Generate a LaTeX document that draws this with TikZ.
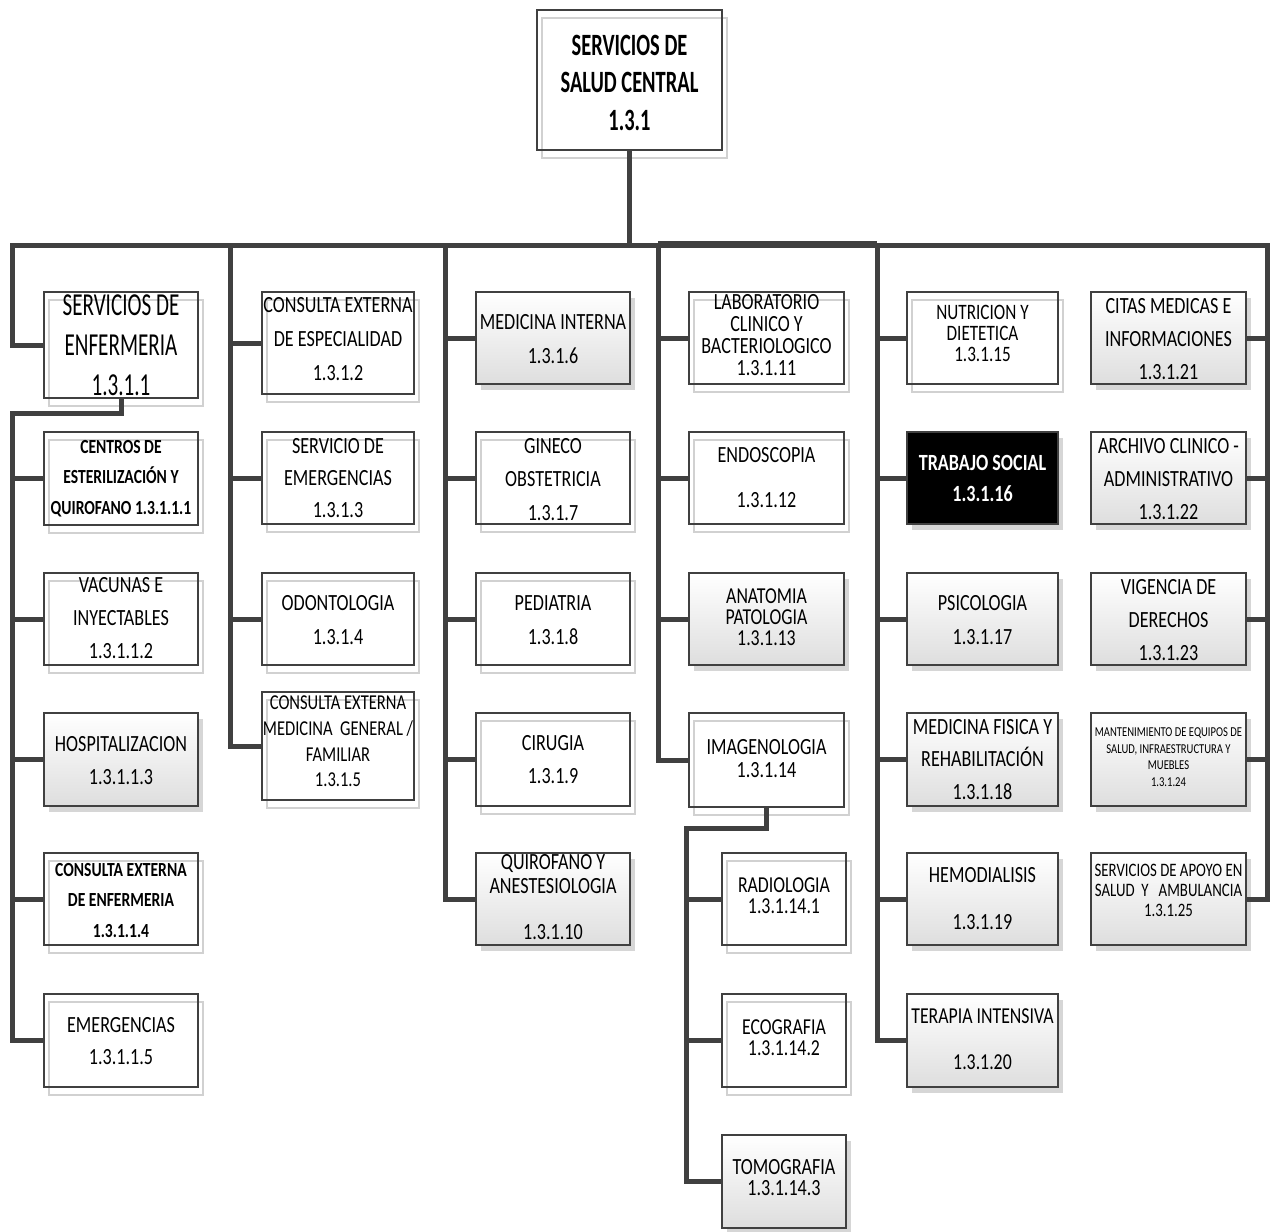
\documentclass[tikz,border=0pt]{standalone}
\usepackage{fontspec}
\setmainfont{Carlito}[FakeStretch=0.78]
\newfontfamily\widefont{Carlito}[FakeStretch=0.66]
\usetikzlibrary{shadows}
\definecolor{ln}{HTML}{404040}
\newcommand\orgbox[6]{\node[#2, minimum width={(#5-#3)*0.5pt}, minimum height={(#6-#4)*0.5pt}, anchor=north west] (#1) at (#3,#4) {};}
\newcommand\orgtext[5]{\node[txt,#2] (#1) at (#3,#4) {#5};}
\begin{document}
\begin{tikzpicture}[x=0.5pt,y=-0.5pt,
  boxbase/.style={rectangle, draw=ln, line width=0.7pt, inner sep=0pt, outer sep=0pt},
  ghostbox/.style={boxbase, general shadow={draw=black!18, line width=0.6pt, shadow xshift=2.5pt, shadow yshift=-4pt}},
  gradbox/.style={boxbase, top color=white, bottom color=black!13, general shadow={fill=black!16, shadow xshift=2.5pt, shadow yshift=-3pt}},
  blackbox/.style={boxbase, fill=black, general shadow={fill=black!16, shadow xshift=2.5pt, shadow yshift=-3pt}},
  conn/.style={draw=ln, line width=2.5pt, line join=miter},
  txt/.style={align=center, inner sep=0pt, text=black},
  fs/.style 2 args={font=\fontsize{#1}{#2}\selectfont},
  fb/.style 2 args={font=\bfseries\fontsize{#1}{#2}\selectfont},
]
\useasboundingbox[fill=white] (0,0) rectangle (1270,1232);

% ---------- boxes ----------
\orgbox{top}{ghostbox}{537}{10}{722}{150}
\orgbox{enf}{ghostbox}{44}{292}{198}{398}
\orgbox{e1}{ghostbox}{44}{432}{198}{525}
\orgbox{e2}{ghostbox}{44}{573}{198}{665}
\orgbox{e3}{gradbox}{44}{713}{198}{806}
\orgbox{e4}{ghostbox}{44}{853}{198}{945}
\orgbox{e5}{ghostbox}{44}{994}{198}{1087}

\orgbox{s2}{ghostbox}{262}{292}{414}{394}
\orgbox{s3}{ghostbox}{262}{432}{414}{524}
\orgbox{s4}{ghostbox}{262}{573}{414}{665}
\orgbox{s5}{ghostbox}{262}{692}{414}{800}

\orgbox{m6}{gradbox}{476}{292}{630}{384}
\orgbox{m7}{ghostbox}{476}{432}{630}{524}
\orgbox{m8}{ghostbox}{476}{573}{630}{665}
\orgbox{m9}{ghostbox}{476}{713}{630}{806}
\orgbox{m10}{gradbox}{476}{853}{630}{945}

\orgbox{l11}{ghostbox}{689}{292}{844}{384}
\orgbox{l12}{ghostbox}{689}{432}{844}{524}
\orgbox{l13}{gradbox}{689}{573}{844}{665}
\orgbox{l14}{ghostbox}{689}{713}{844}{807}
\orgbox{r1}{ghostbox}{722}{853}{846}{945}
\orgbox{r2}{ghostbox}{722}{994}{846}{1087}
\orgbox{r3}{gradbox}{722}{1135}{846}{1228}

\orgbox{n15}{ghostbox}{907}{292}{1058}{384}
\orgbox{n16}{blackbox}{907}{432}{1058}{524}
\orgbox{n17}{gradbox}{907}{573}{1058}{665}
\orgbox{n18}{gradbox}{907}{713}{1058}{806}
\orgbox{n19}{gradbox}{907}{853}{1058}{945}
\orgbox{n20}{gradbox}{907}{994}{1058}{1087}

\orgbox{c21}{gradbox}{1091}{292}{1246}{384}
\orgbox{c22}{gradbox}{1091}{432}{1246}{524}
\orgbox{c23}{gradbox}{1091}{573}{1246}{665}
\orgbox{c24}{gradbox}{1091}{713}{1246}{806}
\orgbox{c25}{gradbox}{1091}{853}{1246}{945}

% ---------- texts ----------
\orgtext{ttop}{font=\widefont\bfseries\fontsize{15.5}{18.75}\selectfont}{629.5}{82.5}{SERVICIOS DE\\SALUD CENTRAL\\1.3.1}
\orgtext{tenf}{font=\widefont\fontsize{16}{20}\selectfont}{121}{345.5}{SERVICIOS DE\\ENFERMERIA\\1.3.1.1}
\orgtext{te1}{fb={10}{15.25}}{121}{478.5}{CENTROS DE\\ESTERILIZACIÓN Y\\QUIROFANO 1.3.1.1.1}
\orgtext{te2}{fs={11.6}{16.5}}{121}{618}{VACUNAS E\\INYECTABLES\\1.3.1.1.2}
\orgtext{te3}{fs={11.6}{16.5}}{121}{760.5}{HOSPITALIZACION\\1.3.1.1.3}
\orgtext{te4}{fb={10}{15.25}}{121}{900.5}{CONSULTA EXTERNA\\DE ENFERMERIA\\1.3.1.1.4}
\orgtext{te5}{fs={11.6}{16}}{121}{1041}{EMERGENCIAS\\1.3.1.1.5}

\orgtext{ts2}{fs={11.6}{17}}{338}{339}{CONSULTA EXTERNA\\DE ESPECIALIDAD\\1.3.1.2}
\orgtext{ts3}{fs={11.6}{16}}{338}{478}{SERVICIO DE\\EMERGENCIAS\\1.3.1.3}
\orgtext{ts4}{fs={11.6}{17}}{338}{620}{ODONTOLOGIA\\1.3.1.4}
\orgtext{ts5}{fs={10.6}{12.8}}{338}{741.5}{CONSULTA EXTERNA\\MEDICINA\ \ GENERAL /\\FAMILIAR\\1.3.1.5}

\orgtext{tm6}{fs={11.6}{17}}{553}{339}{MEDICINA INTERNA\\1.3.1.6}
\orgtext{tm7}{fs={11.6}{16.75}}{553}{479.5}{GINECO\\OBSTETRICIA\\1.3.1.7}
\orgtext{tm8}{fs={11.6}{17}}{553}{620}{PEDIATRIA\\1.3.1.8}
\orgtext{tm9}{fs={11.6}{16.5}}{553}{759.5}{CIRUGIA\\1.3.1.9}
\orgtext{tm10}{fs={11.6}{12}}{553}{897}{QUIROFANO Y\\ANESTESIOLOGIA\\[11pt]1.3.1.10}

\orgtext{tl11}{fs={11.6}{11}}{766.5}{335}{LABORATORIO\\CLINICO Y\\BACTERIOLOGICO\\1.3.1.11}
\orgtext{tl12}{fs={11.6}{22.5}}{766.5}{477.5}{ENDOSCOPIA\\1.3.1.12}
\orgtext{tl13}{fs={11.4}{10.6}}{766.5}{617}{ANATOMIA\\PATOLOGIA\\1.3.1.13}
\orgtext{tl14}{fs={11.6}{11.5}}{766.5}{758.5}{IMAGENOLOGIA\\1.3.1.14}
\orgtext{tr1}{fs={11.4}{10.4}}{784}{896}{RADIOLOGIA\\1.3.1.14.1}
\orgtext{tr2}{fs={11.4}{10.6}}{784}{1037.5}{ECOGRAFIA\\1.3.1.14.2}
\orgtext{tr3}{fs={11.6}{10.6}}{784}{1177.5}{TOMOGRAFIA\\1.3.1.14.3}

\orgtext{tn15}{fs={11}{10.4}}{982.5}{333.5}{NUTRICION Y\\DIETETICA\\1.3.1.15}
\orgtext{tn16}{fb={11.6}{15.5},text=white}{982.5}{478.5}{TRABAJO SOCIAL\\1.3.1.16}
\orgtext{tn17}{fs={11.6}{17}}{982.5}{620}{PSICOLOGIA\\1.3.1.17}
\orgtext{tn18}{fs={11.6}{16.25}}{982.5}{759.5}{MEDICINA FISICA Y\\REHABILITACIÓN\\1.3.1.18}
\orgtext{tn19}{fs={11.6}{23.5}}{982.5}{898.5}{HEMODIALISIS\\1.3.1.19}
\orgtext{tn20}{fs={11.4}{23}}{982.5}{1039}{TERAPIA INTENSIVA\\1.3.1.20}

\orgtext{tc21}{fs={11.6}{16.5}}{1168.5}{339}{CITAS MEDICAS E\\INFORMACIONES\\1.3.1.21}
\orgtext{tc22}{fs={11.6}{16.5}}{1168.5}{479}{ARCHIVO CLINICO -\\ADMINISTRATIVO\\1.3.1.22}
\orgtext{tc23}{fs={11.6}{16.5}}{1168.5}{620}{VIGENCIA DE\\DERECHOS\\1.3.1.23}
\orgtext{tc24}{fs={6.8}{8.3}}{1168.5}{757}{MANTENIMIENTO DE EQUIPOS DE\\SALUD, INFRAESTRUCTURA Y\\MUEBLES\\1.3.1.24}
\orgtext{tc25}{fs={9.5}{10}}{1168.5}{890}{SERVICIOS DE APOYO EN\\SALUD\ \ Y\ \ \ AMBULANCIA\\1.3.1.25}

% ---------- connectors ----------
\coordinate (busL) at (12,245);
\coordinate (busR) at (1275,245);
\draw[conn] (top.south) -- (top.south |- busL);
\draw[conn] (enf.west) -| (busL) -- (busR);
\draw[conn, line width=3pt] (658,244) -- (877,244);

\coordinate (k1) at (12,413);
\draw[conn] (enf.south) |- (k1) |- (e5.west);
\foreach \b in {e1,e2,e3,e4} \draw[conn] (k1 |- \b.west) -- (\b.west);

\coordinate (k2) at (230,245);
\draw[conn] (k2) |- (s5.west);
\foreach \b in {s2,s3,s4} \draw[conn] (k2 |- \b.west) -- (\b.west);

\coordinate (k3) at (445,245);
\draw[conn] (k3) |- (m10.west);
\foreach \b in {m6,m7,m8,m9} \draw[conn] (k3 |- \b.west) -- (\b.west);

\coordinate (k4) at (658,245);
\draw[conn] (k4) |- (l14.west);
\foreach \b in {l11,l12,l13} \draw[conn] (k4 |- \b.west) -- (\b.west);

\coordinate (k5) at (686,828);
\draw[conn] (l14.south) |- (k5) |- (r3.west);
\foreach \b in {r1,r2} \draw[conn] (k5 |- \b.west) -- (\b.west);

\coordinate (k6) at (877,245);
\draw[conn] (k6) |- (n20.west);
\foreach \b in {n15,n16,n17,n18,n19} \draw[conn] (k6 |- \b.west) -- (\b.west);

\coordinate (k7) at (1267,245);
\draw[conn] (k7) |- (c25.east);
\foreach \b in {c21,c22,c23,c24} \draw[conn] (k7 |- \b.east) -- (\b.east);
\end{tikzpicture}
\end{document}
